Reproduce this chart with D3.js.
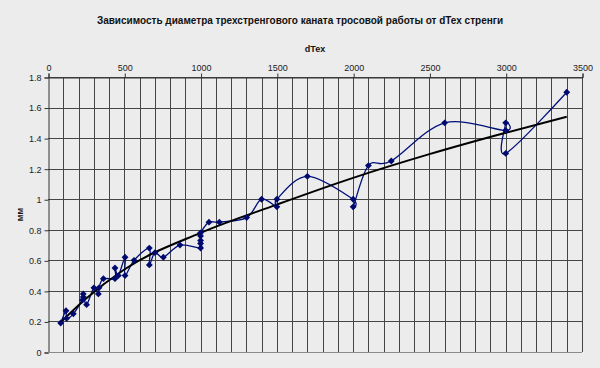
<!DOCTYPE html>
<html>
<head>
<meta charset="utf-8">
<script src="https://cdn.jsdelivr.net/npm/d3@7"></script>
<style>
  body { margin: 0; background: #ececec; }
  svg { display: block; font-family: "Liberation Sans", Arial, sans-serif; }
</style>
</head>
<body>
<div id="chart"></div>
<script>
// measured points, in the order the series connects them
var dtex = [83, 118, 122, 166, 225, 231, 231, 253, 301, 330, 334, 363, 439, 439, 461, 505, 505, 564, 664, 664, 701, 756, 865,
    1000, 1000, 1000, 1000, 1000, 1055, 1123, 1302, 1400, 1500, 1500, 1700, 2000, 2000, 2100, 2250, 2600, 3000, 3000, 3000, 3400];
var diameter = [0.19, 0.27, 0.22, 0.25, 0.34, 0.36, 0.38, 0.31, 0.42, 0.38, 0.42, 0.48, 0.48, 0.55, 0.50, 0.62, 0.50, 0.60, 0.68, 0.57, 0.65, 0.62, 0.70,
    0.68, 0.71, 0.73, 0.76, 0.78, 0.85, 0.85, 0.88, 1.00, 0.95, 1.00, 1.15, 1.00, 0.95, 1.22, 1.25, 1.50, 1.45, 1.50, 1.30, 1.70];

// trend line
var trendDtex = [83, 250, 500, 1000, 1500, 2000, 2500, 3000, 3400];
var trendMm = [0.195, 0.35, 0.54, 0.78, 0.965, 1.14, 1.295, 1.435, 1.54];

var xTicks = [0, 500, 1000, 1500, 2000, 2500, 3000, 3500];
var yTicks = [0, 0.2, 0.4, 0.6, 0.8, 1, 1.2, 1.4, 1.6, 1.8];

var titleText = "Зависимость диаметра трехстренгового каната тросовой работы от dTex стренги";

var W = 600, H = 368;
var margin = { top: 77, right: 18, bottom: 16, left: 48 };
var width = W - margin.left - margin.right,
    height = H - margin.top - margin.bottom;

var svg = d3.select("#chart").append("svg")
    .attr("width", W)
    .attr("height", H);

svg.append("rect").attr("width", W).attr("height", H).attr("fill", "#ececec");

var x = d3.scaleLinear().domain([0, 3500]).range([0, width]);
var y = d3.scaleLinear().domain([0, 1.8]).range([height, 0]);

var g = svg.append("g")
    .attr("transform", "translate(" + margin.left + "," + margin.top + ")");

// grid
g.selectAll(".vgrid")
    .data(d3.range(100, 3600, 100))
    .enter().append("line")
    .attr("class", "vgrid")
    .attr("x1", function (d) { return Math.round(x(d)) + 0.5; })
    .attr("x2", function (d) { return Math.round(x(d)) + 0.5; })
    .attr("y1", 0)
    .attr("y2", height)
    .style("stroke", "#454545")
    .style("stroke-width", 1);

g.selectAll(".hgrid")
    .data(yTicks.slice(1))
    .enter().append("line")
    .attr("class", "hgrid")
    .attr("x1", 0)
    .attr("x2", width)
    .attr("y1", function (d) { return Math.round(y(d)) + 0.5; })
    .attr("y2", function (d) { return Math.round(y(d)) + 0.5; })
    .style("stroke", "#454545")
    .style("stroke-width", 1);

// axes
var xAxis = g.append("g")
    .attr("transform", "translate(0.5,0.5)")
    .call(d3.axisTop(x).tickValues(xTicks).tickSize(4).tickPadding(3).tickFormat(d3.format("d")));
var yAxis = g.append("g")
    .attr("transform", "translate(0.5,0.5)")
    .call(d3.axisLeft(y).tickValues(yTicks).tickSize(4).tickPadding(3).tickFormat(function (d) { return d3.format("")(d); }));

[xAxis, yAxis].forEach(function (a) {
    a.select(".domain").style("stroke", "#333");
    a.selectAll(".tick line").style("stroke", "#333");
    a.selectAll("text").style("font-size", "9px").style("fill", "#222").style("font-family", "'Liberation Sans', Arial, sans-serif");
});
g.append("line")
    .attr("x1", 0).attr("x2", width)
    .attr("y1", height + 0.5).attr("y2", height + 0.5)
    .style("stroke", "#8a8a8a");

// data series
var points = dtex.map(function (d, i) { return [d, diameter[i]]; });

var line = d3.line()
    .x(function (d) { return x(d[0]); })
    .y(function (d) { return y(d[1]); })
    .curve(d3.curveCardinal.tension(0));

g.append("path")
    .datum(points)
    .attr("d", line)
    .style("fill", "none")
    .style("stroke", "#00107a")
    .style("stroke-width", 1.3);

var trend = trendDtex.map(function (d, i) { return [d, trendMm[i]]; });
g.append("path")
    .datum(trend)
    .attr("d", d3.line()
        .x(function (d) { return x(d[0]); })
        .y(function (d) { return y(d[1]); })
        .curve(d3.curveMonotoneX))
    .style("fill", "none")
    .style("stroke", "#000")
    .style("stroke-width", 2);

g.selectAll(".marker")
    .data(points)
    .enter().append("path")
    .attr("class", "marker")
    .attr("transform", function (d) { return "translate(" + x(d[0]) + "," + y(d[1]) + ")"; })
    .attr("d", d3.symbol().type(d3.symbolDiamond2).size(30))
    .style("fill", "#000a6e");

// titles
svg.append("text")
    .attr("x", 300)
    .attr("y", 24)
    .attr("text-anchor", "middle")
    .style("font-size", "10px")
    .style("font-weight", "bold")
    .style("fill", "#111")
    .text(titleText);

svg.append("text")
    .attr("x", margin.left + width / 2)
    .attr("y", 52)
    .attr("text-anchor", "middle")
    .style("font-size", "9px")
    .style("font-weight", "bold")
    .style("fill", "#111")
    .text("dTex");

svg.append("text")
    .attr("transform", "translate(23," + (margin.top + height / 2) + ") rotate(-90)")
    .attr("text-anchor", "middle")
    .style("font-size", "9px")
    .style("font-weight", "bold")
    .style("fill", "#111")
    .text("мм");
</script>
</body>
</html>
